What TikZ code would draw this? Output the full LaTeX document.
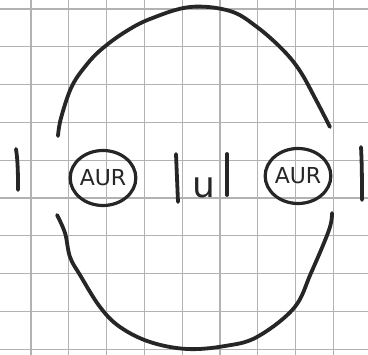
\documentclass[tikz,border=0pt]{standalone}
\usepackage{fontspec}
\setsansfont{DejaVu Sans}
\usetikzlibrary{shapes.geometric}
\tikzset{
  gridline/.style={draw=black!30, line width=1.2pt},
  pen/.style={draw=black!85, line width=3.8pt, line cap=round, line join=round},
  aur/.style={ellipse, draw=black!85, line width=3.2pt, minimum width=64pt, minimum height=55pt, inner sep=0pt,
    font=\sffamily\fontsize{22}{22}\selectfont, text=black!85},
  letter/.style={font=\sffamily\fontsize{36}{36}\selectfont, text=black!85, inner sep=0pt},
}

\begin{document}
\begin{tikzpicture}[x=1pt, y=-1pt]
  \useasboundingbox[fill=white] (0,0) rectangle (368,355);
  % grid paper
  \foreach \i in {0,...,8} \draw[gridline] (31+37.8*\i,0) -- (31+37.8*\i,355);
  \foreach \j in {0,...,9} \draw[gridline] (0,9+37.8*\j) -- (368,9+37.8*\j);
  % circled labels
  \node[aur] (aurL) at (103,178) {AUR};
  \node[aur] (aurR) at (298,176) {AUR};
  % middle |u|
  \node[letter] (u) at (204,188) {u};
  \draw[pen] (176,154) -- (178,202);
  \draw[pen] (227,154) -- (227,195);
  % outer bars
  \draw[pen] (16,149) .. controls (18,162) and (18,176) .. (18,190);
  \draw[pen] (361,147) .. controls (362,165) and (362,185) .. (362,200);
  % upper arc
  \draw[pen] plot[smooth, tension=0.6] coordinates {(58,136) (61,118) (72,86) (88,63) (103,48) (125,32)
    (150,19) (190,7) (230,11) (257,27) (283,50) (300,71) (315,98) (330,127)};
  % lower arc
  \draw[pen] plot[smooth, tension=0.6] coordinates {(57,215) (65,233) (70,257) (80,275) (100,307) (120,327)
    (150,342) (187,349) (225,346) (257,337) (294,308) (311,273) (329,230) (332,213)};
\end{tikzpicture}
\end{document}
